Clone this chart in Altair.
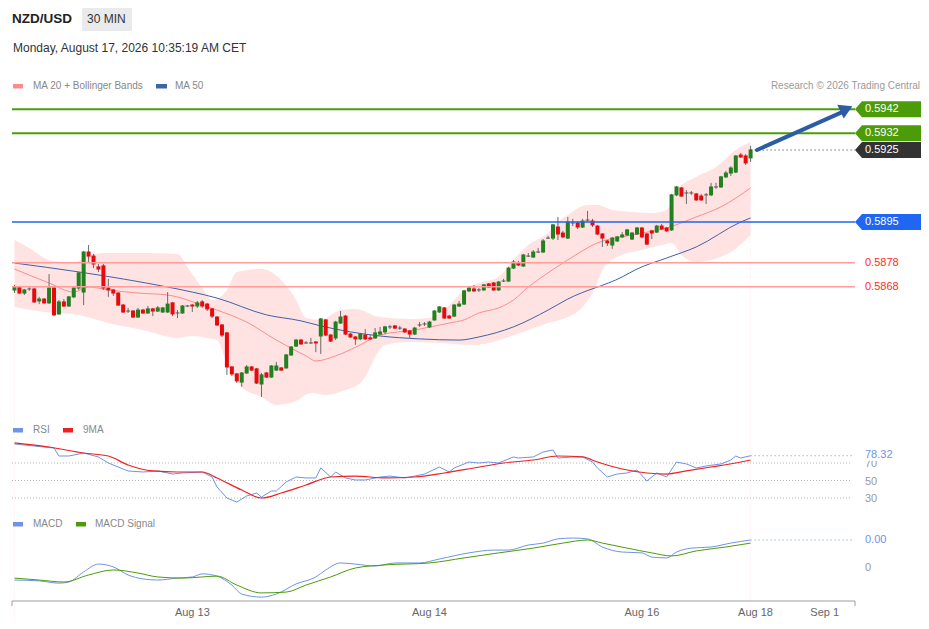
import altair as alt
import pandas as pd

FONT = "Liberation Sans"

# ---------------- texts ----------------
SYMBOL = "NZD/USD"
INTERVAL = "30 MIN"
TIMESTAMP = "Monday, August 17, 2026 10:35:19 AM CET"
PRICE_LEGEND = ["MA 20 + Bollinger Bands", "MA 50"]
RSI_LEGEND = ["RSI", "9MA"]
MACD_LEGEND = ["MACD", "MACD Signal"]
CREDIT = "Research \u00a9 2026 Trading Central"

AXIS_POS = [36, 84, 127, 150, 164]
AXIS_LABELS = ["Aug 13", "Aug 14", "Aug 16", "Aug 18", "Sep 1"]

# ---------------- candles (30 min) ----------------
OPEN = [0.58667,0.58679,0.58654,0.58671,0.58671,0.58621,0.58629,0.58613,0.58675,0.58567,
        0.58617,0.58600,0.58638,0.58675,0.58658,0.58825,0.58808,0.58763,0.58767,0.58675,
        0.58667,0.58654,0.58604,0.58579,0.58579,0.58554,0.58583,0.58571,0.58588,0.58579,
        0.58575,0.58575,0.58613,0.58571,0.58571,0.58600,0.58604,0.58600,0.58617,0.58608,
        0.58588,0.58554,0.58521,0.58488,0.58346,0.58317,0.58283,0.58321,0.58346,0.58338,
        0.58275,0.58321,0.58304,0.58333,0.58342,0.58342,0.58396,0.58433,0.58458,0.58446,
        0.58446,0.58450,0.58475,0.58542,0.58479,0.58467,0.58529,0.58558,0.58483,0.58471,
        0.58463,0.58479,0.58467,0.58467,0.58483,0.58492,0.58513,0.58517,0.58508,0.58504,
        0.58496,0.58483,0.58521,0.58525,0.58513,0.58542,0.58575,0.58592,0.58558,0.58558,
        0.58600,0.58608,0.58663,0.58671,0.58667,0.58667,0.58692,0.58696,0.58667,0.58704,
        0.58704,0.58758,0.58779,0.58767,0.58808,0.58804,0.58825,0.58825,0.58883,0.58883,
        0.58929,0.58904,0.58883,0.58946,0.58946,0.58929,0.58958,0.58954,0.58933,0.58900,
        0.58871,0.58854,0.58871,0.58888,0.58896,0.58879,0.58900,0.58925,0.58900,0.58913,
        0.58908,0.58933,0.58925,0.58917,0.59063,0.59092,0.59071,0.59071,0.59067,0.59058,
        0.59063,0.59063,0.59096,0.59096,0.59138,0.59154,0.59158,0.59229,0.59225,0.59217]
HIGH = [0.58688,0.58683,0.58671,0.58679,0.58675,0.58638,0.58633,0.58733,0.58679,0.58625,
        0.58629,0.58642,0.58679,0.58742,0.58829,0.58854,0.58817,0.58775,0.58775,0.58713,
        0.58671,0.58658,0.58608,0.58592,0.58583,0.58592,0.58588,0.58600,0.58592,0.58600,
        0.58596,0.58658,0.58617,0.58583,0.58604,0.58604,0.58608,0.58621,0.58625,0.58613,
        0.58592,0.58558,0.58525,0.58492,0.58350,0.58321,0.58325,0.58354,0.58350,0.58342,
        0.58321,0.58325,0.58354,0.58367,0.58346,0.58400,0.58433,0.58463,0.58463,0.58454,
        0.58467,0.58454,0.58550,0.58546,0.58483,0.58538,0.58579,0.58563,0.58488,0.58475,
        0.58488,0.58504,0.58479,0.58508,0.58513,0.58517,0.58521,0.58521,0.58517,0.58508,
        0.58500,0.58513,0.58533,0.58533,0.58538,0.58583,0.58600,0.58596,0.58563,0.58608,
        0.58621,0.58667,0.58683,0.58688,0.58675,0.58692,0.58696,0.58700,0.58704,0.58713,
        0.58763,0.58792,0.58788,0.58817,0.58821,0.58833,0.58842,0.58879,0.58892,0.58942,
        0.58971,0.58913,0.58971,0.58963,0.58954,0.58963,0.58996,0.58963,0.58938,0.58904,
        0.58875,0.58888,0.58892,0.58908,0.58921,0.58908,0.58929,0.58929,0.58904,0.58917,
        0.58938,0.58942,0.58929,0.59067,0.59100,0.59096,0.59083,0.59079,0.59071,0.59067,
        0.59071,0.59113,0.59113,0.59142,0.59163,0.59183,0.59229,0.59238,0.59233,0.59267]
LOW = [0.58654,0.58650,0.58646,0.58663,0.58613,0.58608,0.58608,0.58608,0.58558,0.58563,
       0.58596,0.58596,0.58633,0.58667,0.58604,0.58783,0.58758,0.58742,0.58667,0.58638,
       0.58642,0.58600,0.58571,0.58571,0.58550,0.58550,0.58567,0.58567,0.58558,0.58575,
       0.58571,0.58571,0.58558,0.58550,0.58567,0.58596,0.58575,0.58592,0.58592,0.58579,
       0.58550,0.58517,0.58471,0.58313,0.58308,0.58279,0.58263,0.58317,0.58329,0.58275,
       0.58221,0.58300,0.58300,0.58329,0.58329,0.58338,0.58392,0.58429,0.58438,0.58442,
       0.58442,0.58408,0.58400,0.58475,0.58450,0.58458,0.58525,0.58479,0.58467,0.58438,
       0.58458,0.58458,0.58458,0.58463,0.58479,0.58483,0.58504,0.58504,0.58500,0.58488,
       0.58467,0.58479,0.58513,0.58517,0.58508,0.58538,0.58571,0.58546,0.58546,0.58554,
       0.58596,0.58604,0.58658,0.58658,0.58658,0.58663,0.58675,0.58663,0.58663,0.58700,
       0.58700,0.58754,0.58767,0.58763,0.58804,0.58800,0.58821,0.58821,0.58879,0.58875,
       0.58875,0.58883,0.58879,0.58933,0.58921,0.58925,0.58950,0.58929,0.58896,0.58846,
       0.58850,0.58838,0.58867,0.58883,0.58892,0.58875,0.58896,0.58883,0.58854,0.58879,
       0.58904,0.58917,0.58908,0.58913,0.59058,0.59054,0.59025,0.59063,0.59038,0.59038,
       0.59025,0.59058,0.59088,0.59092,0.59133,0.59142,0.59154,0.59217,0.59188,0.59200]
CLOSE = [0.58679,0.58654,0.58667,0.58671,0.58617,0.58629,0.58613,0.58675,0.58563,0.58617,
         0.58600,0.58638,0.58675,0.58738,0.58825,0.58808,0.58775,0.58754,0.58675,0.58667,
         0.58654,0.58604,0.58575,0.58579,0.58554,0.58583,0.58571,0.58588,0.58579,0.58592,
         0.58592,0.58608,0.58567,0.58571,0.58600,0.58600,0.58600,0.58613,0.58600,0.58588,
         0.58558,0.58521,0.58479,0.58346,0.58317,0.58288,0.58321,0.58346,0.58333,0.58279,
         0.58313,0.58304,0.58350,0.58350,0.58333,0.58396,0.58429,0.58458,0.58442,0.58446,
         0.58446,0.58446,0.58546,0.58479,0.58454,0.58533,0.58554,0.58483,0.58471,0.58463,
         0.58483,0.58463,0.58463,0.58488,0.58492,0.58513,0.58513,0.58508,0.58508,0.58492,
         0.58483,0.58508,0.58521,0.58525,0.58533,0.58579,0.58596,0.58550,0.58550,0.58604,
         0.58608,0.58663,0.58675,0.58663,0.58667,0.58688,0.58679,0.58667,0.58700,0.58704,
         0.58758,0.58783,0.58771,0.58813,0.58808,0.58825,0.58825,0.58871,0.58883,0.58938,
         0.58900,0.58888,0.58950,0.58946,0.58929,0.58954,0.58958,0.58938,0.58900,0.58883,
         0.58863,0.58883,0.58888,0.58896,0.58917,0.58904,0.58925,0.58888,0.58858,0.58904,
         0.58933,0.58921,0.58913,0.59063,0.59096,0.59058,0.59071,0.59071,0.59042,0.59042,
         0.59063,0.59096,0.59096,0.59138,0.59154,0.59175,0.59225,0.59221,0.59196,0.59250]

# ---------------- overlays ----------------
MA20_X = [0,7,12,15,19,25,31,38,41,47,53,59,61,65,70,74,81,88,91,94,98,101,104,108,112,118,125,132,138,143,149]
MA20_V = [0.58754,0.58696,0.58658,0.58679,0.58667,0.58654,0.58646,0.58604,0.58583,0.58533,
          0.58458,0.58392,0.58371,0.58392,0.58438,0.58479,0.58500,0.58529,0.58542,0.58571,
          0.58592,0.58625,0.58679,0.58738,0.58792,0.58863,0.58896,0.58925,0.58971,0.59013,0.59092]
MA50_X = [0,13,31,36,41,51,58,62,74,82,90,94,101,108,112,123,126,132,138,147,149]
MA50_V = [0.58779,0.58742,0.58679,0.58658,0.58633,0.58563,0.58538,0.58517,0.58475,0.58463,
          0.58458,0.58471,0.58513,0.58583,0.58629,0.58721,0.58754,0.58800,0.58846,0.58950,0.58967]
BBU_X = [0,3,7,12,15,19,26,33,35,38,40,43,45,50,54,57,59,62,66,69,74,80,84,88,91,94,98,101,104,108,
         110,112,116,118,121,125,129,132,134,138,142,146,149]
BBU_V = [0.58875,0.58842,0.58792,0.58779,0.58813,0.58821,0.58821,0.58817,0.58763,0.58675,
         0.58625,0.58667,0.58742,0.58754,0.58708,0.58625,0.58550,0.58542,0.58583,0.58588,
         0.58554,0.58546,0.58550,0.58604,0.58667,0.58696,0.58721,0.58792,0.58854,0.58904,
         0.58950,0.58979,0.59021,0.59021,0.59000,0.58992,0.58988,0.59000,0.59083,0.59138,
         0.59179,0.59250,0.59283]
BBL_X = [0,6,13,19,26,33,36,39,41,43,46,50,53,57,60,63,67,70,71,73,75,80,86,93,96,100,104,108,112,115,
         117,119,122,127,131,133,135,138,145,149]
BBL_V = [0.58596,0.58575,0.58563,0.58529,0.58500,0.58467,0.58475,0.58467,0.58458,0.58363,
         0.58263,0.58221,0.58188,0.58204,0.58238,0.58229,0.58250,0.58279,0.58304,0.58388,
         0.58438,0.58450,0.58446,0.58438,0.58446,0.58471,0.58500,0.58529,0.58554,0.58596,
         0.58654,0.58750,0.58804,0.58833,0.58854,0.58863,0.58813,0.58783,0.58825,0.58896]

RESISTANCE = [0.5942, 0.5932]
PIVOT = [0.5895]
SUPPORT = [0.5878, 0.5868]

ARROW_X = [150.3, 167.3]
ARROW_P = [0.5925, 0.59406]
ARROW_HEAD_X = [168.4]
ARROW_HEAD_P = [0.59421]

# ---------------- RSI ----------------
RSI_X = [0,4,8,9,11,14,17,19,21,23,26,29,32,34,38,40,41,43,45,47,49,50,52,53,55,57,59,61,62,64,
         65,67,69,71,74,76,79,81,83,86,88,89,92,94,96,98,101,102,105,107,109,110,113,115,117,118,
         120,122,124,126,128,130,131,132,134,136,138,140,143,145,146,147,149]
RSI_V = [91.7,89.4,87.1,78.0,78.0,81.4,76.9,70.0,65.4,60.9,59.7,60.9,57.4,58.6,59.7,54.0,42.6,30.0,
         25.4,32.3,35.7,31.1,38.0,38.0,48.3,54.0,52.9,52.9,64.3,54.0,59.7,52.9,50.6,50.6,54.0,55.1,
         52.9,55.1,57.4,65.4,59.7,64.3,71.1,70.0,71.1,70.0,76.9,75.7,76.9,82.6,84.9,75.7,76.9,76.9,
         71.1,64.3,54.0,57.4,58.6,62.0,49.4,58.6,56.3,54.0,71.1,68.9,64.3,66.6,68.9,73.4,78.0,75.7,78.32]
RSIMA_X = [0,7,14,19,23,28,33,38,41,46,50,54,59,64,69,75,81,87,93,99,105,110,115,118,123,128,132,136,141,146,149]
RSIMA_V = [92.9,88.3,81.4,78.0,67.7,60.9,59.7,59.7,52.9,39.1,30.0,35.7,44.9,54.0,55.1,52.9,54.0,
           58.6,64.3,70.0,73.4,78.0,76.9,71.1,63.1,58.6,57.4,60.9,65.4,70.0,73.4]
RSI_LEVELS = [70, 50, 30]

# ---------------- MACD ----------------
MACD_X = [0,5,9,11,14,17,20,23,26,29,33,36,38,41,44,46,50,53,57,61,63,66,69,73,77,82,86,92,97,100,
          104,107,110,113,116,119,123,127,129,132,134,137,141,145,149]
MACD_V = [-0.00043,-0.00046,-0.00054,-0.00050,-0.00014,0.00014,0.00004,-0.00025,-0.00039,-0.00043,
          -0.00036,-0.00032,-0.00021,-0.00029,-0.00061,-0.00093,-0.00104,-0.00093,-0.00057,-0.00032,
          -0.00007,0.00018,0.00014,0.00007,0.00018,0.00018,0.00032,0.00054,0.00064,0.00064,
          0.00082,0.00089,0.00104,0.00107,0.00104,0.00075,0.00057,0.00054,0.00039,0.00036,
          0.00057,0.00071,0.00075,0.00089,0.00100]
SIG_X = [0,5,10,15,20,25,29,34,38,41,45,50,55,59,64,69,75,84,91,98,105,111,116,119,124,129,133,138,144,149]
SIG_V = [-0.00036,-0.00043,-0.00050,-0.00025,-0.00007,-0.00018,-0.00032,-0.00036,-0.00032,-0.00029,
         -0.00061,-0.00089,-0.00086,-0.00061,-0.00032,0.00000,0.00011,0.00018,0.00036,0.00054,
         0.00071,0.00089,0.00100,0.00089,0.00071,0.00054,0.00043,0.00061,0.00075,0.00089]
MACD_TICKS = [0]

# ---------------- styling ----------------
GREEN_C = "#21801f"
RED_C = "#e8090f"
FLAT_C = "#555555"
WICK_C = "#6b6b6b"
BAND_C = "#ffe2e2"
MA20_C = "#ff8c8c"
MA50_C = "#3d63a8"
RES_C = "#4c9c0a"
PIV_C = "#1f66f2"
SUP_C = "#ff9d9d"
SUP_TXT = "#ff2b2b"
LAST_C = "#333333"
RSI_C = "#6f93e6"
RSIMA_C = "#ee2222"
SIG_C = "#4c9c0a"
ARROW_C = "#2c5ca6"
GRID_C = "#b5b5b5"

# plot area: page x 12..921, page y 8..601
W, H = 909, 593
XS = alt.Scale(domain=[-0.5, 183.49], nice=False, zero=False, padding=0)
PS = alt.Scale(domain=[0.57370833, 0.59841667], nice=False, zero=False, padding=0)
RS = alt.Scale(domain=[-87.714, 590.0], nice=False, zero=False, padding=0)
MS = alt.Scale(domain=[-0.00117857, 0.02], nice=False, zero=False, padding=0)


def X(f):
    return alt.X(f"{f}:Q", scale=XS, axis=None)


def PY(f):
    return alt.Y(f"{f}:Q", scale=PS, axis=None)


def RY(f):
    return alt.Y(f"{f}:Q", scale=RS, axis=None)


def MY(f):
    return alt.Y(f"{f}:Q", scale=MS, axis=None)


def sdf(xs, vs):
    return pd.DataFrame({"i": xs, "v": vs})


def txt(t, x, y, size=10, color="#888888", weight="normal", align="left"):
    return alt.Chart(pd.DataFrame({"t": [t]})).mark_text(
        align=align, baseline="middle", fontSize=size, color=color, font=FONT, fontWeight=weight
    ).encode(x=alt.value(x), y=alt.value(y), text="t:N")


def box(x0, x1, y0, y1, color):
    return alt.Chart(pd.DataFrame({"t": [0]})).mark_rect(color=color).encode(
        x=alt.value(x0), x2=alt.value(x1), y=alt.value(y0), y2=alt.value(y1))


# price tag: 66 px wide, 16 px tall, pointed on the left
TAG_PATH = "M-1,0L-0.788,-0.2424L1,-0.2424L1,0.2424L-0.788,0.2424Z"
TAG_SIZE = 66 * 66
TAG_CX = 876

layers = []

# Bollinger band (pink fill down to a baseline, then white below the lower band)
layers.append(alt.Chart(sdf(BBU_X, BBU_V)).mark_area(color=BAND_C, interpolate="monotone").encode(
    x=X("i"), y=PY("v"), y2=alt.value(405)))
layers.append(alt.Chart(sdf(BBL_X, BBL_V)).mark_area(color="white", interpolate="monotone").encode(
    x=X("i"), y=PY("v"), y2=alt.value(405)))
layers.append(alt.Chart(sdf(MA20_X, MA20_V)).mark_line(color=MA20_C, strokeWidth=1, interpolate="monotone").encode(
    x=X("i"), y=PY("v")))
layers.append(alt.Chart(sdf(MA50_X, MA50_V)).mark_line(color=MA50_C, strokeWidth=1, interpolate="monotone").encode(
    x=X("i"), y=PY("v")))

# candles
cdf = pd.DataFrame({"i": list(range(len(CLOSE))), "open": OPEN, "high": HIGH, "low": LOW, "close": CLOSE})
cbase = alt.Chart(cdf).transform_calculate(
    dir="datum.close > datum.open ? 'up' : (datum.close < datum.open ? 'down' : 'flat')",
    lo="min(datum.open, datum.close)",
    hi="max(datum.open, datum.close)")
layers.append(cbase.mark_rule(color=WICK_C, strokeWidth=1).encode(x=X("i"), y=PY("low"), y2="high:Q"))
layers.append(cbase.mark_bar(size=4, yOffset=0.5, y2Offset=-0.5).encode(
    x=X("i"), y=PY("lo"), y2="hi:Q",
    color=alt.Color("dir:N", scale=alt.Scale(domain=["up", "down", "flat"], range=[GREEN_C, RED_C, FLAT_C]),
                    legend=None)))

# level lines
layers.append(alt.Chart(pd.DataFrame({"p": RESISTANCE})).mark_rule(color=RES_C, strokeWidth=2).encode(
    x=alt.value(0), x2=alt.value(843), y=PY("p")))
layers.append(alt.Chart(pd.DataFrame({"p": PIVOT})).mark_rule(color=PIV_C, strokeWidth=1.5).encode(
    x=alt.value(0), x2=alt.value(843), y=PY("p")))
layers.append(alt.Chart(pd.DataFrame({"p": SUPPORT})).mark_rule(color=SUP_C, strokeWidth=1.5).encode(
    x=alt.value(0), x2=alt.value(843), y=PY("p")))

# last price dotted
last_df = pd.DataFrame({"i": [len(CLOSE) - 1], "p": [CLOSE[-1]]})
layers.append(alt.Chart(last_df).mark_rule(color=LAST_C, strokeWidth=1, strokeDash=[1, 3]).encode(
    x=X("i"), x2=alt.value(843), y=PY("p")))

# arrow
layers.append(alt.Chart(pd.DataFrame({"i": ARROW_X, "p": ARROW_P})).mark_line(
    color=ARROW_C, strokeWidth=4, strokeCap="round").encode(x=X("i"), y=PY("p")))
layers.append(alt.Chart(pd.DataFrame({"i": ARROW_HEAD_X, "p": ARROW_HEAD_P})).mark_point(
    shape="triangle-up", filled=True, opacity=1, color=ARROW_C, size=230, angle=65, strokeWidth=0).encode(
    x=X("i"), y=PY("p")))


def tags(vals, color):
    b = alt.Chart(pd.DataFrame({"p": vals}))
    return [
        b.mark_point(shape=TAG_PATH, filled=True, opacity=1, color=color, size=TAG_SIZE, strokeWidth=0).encode(
            x=alt.value(TAG_CX), y=PY("p")),
        b.mark_text(align="left", baseline="middle", color="white", fontSize=11, font=FONT).encode(
            x=alt.value(853), y=PY("p"), text=alt.Text("p:Q", format=".4f")),
    ]


layers += tags(RESISTANCE, RES_C)
layers += tags([CLOSE[-1]], LAST_C)
layers += tags(PIVOT, PIV_C)
layers.append(alt.Chart(pd.DataFrame({"p": SUPPORT})).mark_text(
    align="left", baseline="middle", color=SUP_TXT, fontSize=11, font=FONT).encode(
    x=alt.value(853), y=PY("p"), text=alt.Text("p:Q", format=".4f")))

# ---------------- RSI panel ----------------
layers.append(alt.Chart(pd.DataFrame({"r": RSI_LEVELS})).mark_rule(color=GRID_C, strokeWidth=1, strokeDash=[1, 2]).encode(
    x=alt.value(0), x2=alt.value(840), y=RY("r")))
layers.append(alt.Chart(sdf(RSI_X, RSI_V)).mark_line(color=RSI_C, strokeWidth=1).encode(x=X("i"), y=RY("v")))
layers.append(alt.Chart(sdf(RSIMA_X, RSIMA_V)).mark_line(color=RSIMA_C, strokeWidth=1.2, interpolate="monotone").encode(
    x=X("i"), y=RY("v")))
rsi_last = pd.DataFrame({"i": [RSI_X[-1]], "r": [RSI_V[-1]]})
layers.append(alt.Chart(rsi_last).mark_rule(color=RSI_C, strokeWidth=1, strokeDash=[1, 3]).encode(
    x=X("i"), x2=alt.value(840), y=RY("r")))
layers.append(alt.Chart(pd.DataFrame({"r": RSI_LEVELS})).mark_text(
    align="left", baseline="middle", color="#999999", fontSize=11, font=FONT, dy=1).encode(
    x=alt.value(853), y=RY("r"), text=alt.Text("r:Q", format="d")))
layers.append(alt.Chart(rsi_last).mark_rect(color="white", yOffset=-7, y2Offset=5).encode(
    x=alt.value(850), x2=alt.value(909), y=RY("r"), y2="r:Q"))
layers.append(alt.Chart(rsi_last).mark_text(
    align="left", baseline="middle", color=RSI_C, fontSize=11, font=FONT, dy=-1).encode(
    x=alt.value(853), y=RY("r"), text=alt.Text("r:Q", format=".2f")))

# ---------------- MACD panel ----------------
layers.append(alt.Chart(sdf(MACD_X, MACD_V)).mark_line(color=RSI_C, strokeWidth=1, interpolate="monotone").encode(
    x=X("i"), y=MY("v")))
layers.append(alt.Chart(sdf(SIG_X, SIG_V)).mark_line(color=SIG_C, strokeWidth=1, interpolate="monotone").encode(
    x=X("i"), y=MY("v")))
macd_last = pd.DataFrame({"i": [MACD_X[-1]], "m": [MACD_V[-1]]})
layers.append(alt.Chart(macd_last).mark_rule(color=RSI_C, strokeWidth=1, strokeDash=[1, 3]).encode(
    x=X("i"), x2=alt.value(840), y=MY("m")))
layers.append(alt.Chart(macd_last).mark_text(
    align="left", baseline="middle", color=RSI_C, fontSize=11, font=FONT).encode(
    x=alt.value(853), y=MY("m"), text=alt.Text("m:Q", format=".2f")))
layers.append(alt.Chart(pd.DataFrame({"m": MACD_TICKS})).mark_text(
    align="left", baseline="middle", color="#999999", fontSize=11, font=FONT).encode(
    x=alt.value(853), y=MY("m"), text=alt.Text("m:Q", format="d")))

# x axis line with end ticks and date labels
layers.append(box(0, 843, 592.5, 593.5, "#a0a0a0"))
layers.append(box(-0.5, 0.5, 593, 598, "#a0a0a0"))
layers.append(box(842.5, 843.5, 593, 598, "#a0a0a0"))
layers.append(alt.Chart(pd.DataFrame({"i": AXIS_POS, "t": AXIS_LABELS})).mark_text(
    align="center", baseline="middle", fontSize=11, color="#666666", font=FONT).encode(
    x=X("i"), y=alt.value(605), text="t:N"))

# ---------------- header and legends ----------------
layers.append(box(70, 120, 0, 23, "#e9eaec"))
layers.append(txt(SYMBOL, 0, 11, size=13.5, color="#222222", weight="bold"))
layers.append(txt(INTERVAL, 75, 11, size=12, color="#333333"))
layers.append(txt(TIMESTAMP, 1, 40, size=12, color="#333333"))

layers.append(box(1, 11, 76, 80.5, MA20_C))
layers.append(txt(PRICE_LEGEND[0], 21, 78))
layers.append(box(144, 155, 76, 80.5, MA50_C))
layers.append(txt(PRICE_LEGEND[1], 163, 78))
layers.append(txt(CREDIT, 908, 78, color="#9a9a9a", align="right"))

layers.append(box(1, 11, 420, 424.5, RSI_C))
layers.append(txt(RSI_LEGEND[0], 21, 422))
layers.append(box(51, 61, 420, 424.5, RSIMA_C))
layers.append(txt(RSI_LEGEND[1], 71, 422))

layers.append(box(1, 11, 514, 518.5, RSI_C))
layers.append(txt(MACD_LEGEND[0], 21, 516))
layers.append(box(64, 74, 514, 518.5, SIG_C))
layers.append(txt(MACD_LEGEND[1], 83, 516))

chart = alt.layer(*layers).resolve_scale(y="independent").properties(
    width=W, height=H,
    autosize=alt.AutoSizeParams(type="none"),
    padding={"left": 4, "top": 0, "right": 0, "bottom": 22},
    background="white",
).configure_view(stroke=None)

chart.save("out.html", embed_options={"renderer": "svg", "actions": False})
